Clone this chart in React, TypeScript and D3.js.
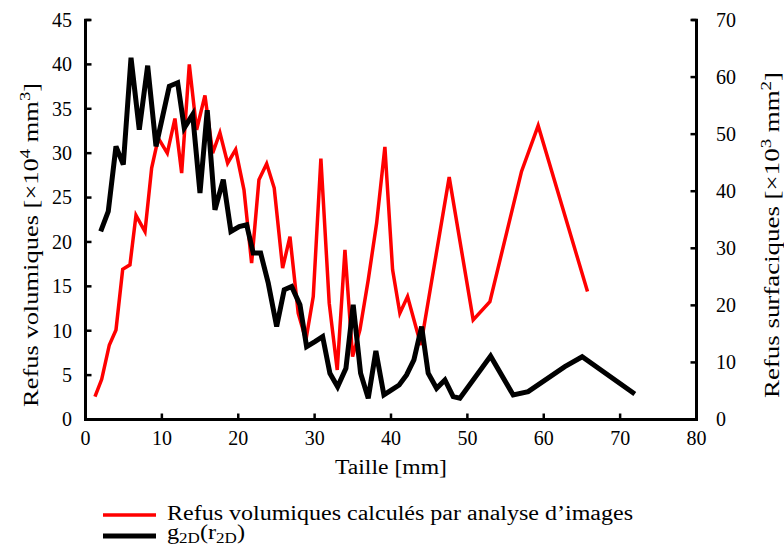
import React from 'react';
import * as d3 from 'd3';

// Taille [mm] and Refus volumiques [x10^4 mm^3] (left axis)
const redX = [1.24, 2.12, 3.12, 3.99, 4.87, 5.82, 6.61, 7.79, 8.66, 9.53, 10.71, 11.71, 12.59, 13.59, 14.55, 15.64, 16.65, 17.6, 18.61, 19.66, 20.75, 21.75, 22.71, 23.72, 24.71, 25.81, 26.77, 27.85, 28.86, 29.82, 30.82, 31.91, 32.96, 33.97, 34.97, 35.93, 37.02, 38.12, 39.2, 40.21, 41.16, 42.17, 43.91, 47.62, 50.76, 52.95, 57.09, 59.27, 65.73];
const redY = [2.57, 4.53, 8.4, 10.09, 16.93, 17.42, 23.0, 21.17, 28.32, 31.7, 30.01, 33.9, 27.76, 40.0, 32.64, 36.5, 30.01, 32.3, 28.88, 30.4, 25.87, 17.61, 27.0, 28.8, 26.07, 17.05, 20.6, 11.97, 8.96, 13.84, 29.4, 13.1, 5.58, 19.1, 7.08, 10.09, 15.73, 22.12, 30.7, 16.85, 11.97, 13.84, 8.4, 27.3, 11.22, 13.28, 27.94, 33.1, 14.41];

// g2D(r2D), Refus surfaciques [x10^3 mm^2] (right axis)
const blackX = [1.99, 2.98, 3.99, 4.95, 5.96, 7.04, 8.14, 9.23, 10.1, 10.97, 12.07, 12.93, 14.03, 14.99, 15.94, 16.95, 18.04, 19.04, 20.13, 21.1, 21.96, 22.93, 23.93, 25.03, 26.02, 26.99, 28.08, 28.95, 30.04, 31.05, 32.0, 33.01, 34.1, 35.05, 36.02, 37.02, 38.02, 39.07, 40.08, 41.07, 42.04, 43.0, 44.01, 44.87, 45.97, 47.06, 48.14, 49.02, 53.04, 56.0, 57.96, 62.76, 65.03, 71.92];
const blackY = [32.95, 36.46, 47.86, 44.65, 63.4, 50.79, 62.0, 47.86, 53.12, 58.39, 59.0, 51.09, 53.42, 39.68, 54.2, 36.75, 42.02, 32.95, 33.82, 34.12, 29.16, 29.16, 23.89, 16.28, 22.72, 23.3, 20.09, 12.77, 13.65, 14.53, 8.1, 5.75, 8.98, 20.1, 8.1, 3.72, 12.0, 4.3, 5.18, 6.05, 7.81, 10.44, 16.3, 8.1, 5.47, 6.93, 4.0, 3.72, 11.1, 4.3, 4.88, 9.26, 11.0, 4.47];

const xTicks = [0, 10, 20, 30, 40, 50, 60, 70, 80];
const leftTicks = [0, 5, 10, 15, 20, 25, 30, 35, 40, 45];
const rightTicks = [0, 10, 20, 30, 40, 50, 60, 70];

const FONT = '"Liberation Serif", "Times New Roman", serif';
const FS = 20;
const SUP = 14;

export default function App() {
  const x = d3.scaleLinear().domain([0, 80]).range([85.5, 696.5]);
  const yL = d3.scaleLinear().domain([0, 45]).range([419.5, 20]);
  const yR = d3.scaleLinear().domain([0, 70]).range([419.5, 20]);

  const redLine = d3.line<number>().x((_, i) => x(redX[i])).y((d) => yL(d))(redY) || '';
  const blackLine = d3.line<number>().x((_, i) => x(blackX[i])).y((d) => yR(d))(blackY) || '';

  const [x0, x1] = x.range();
  const [yb, yt] = yL.range();
  const tickLen = 6;
  const txt = { fontFamily: FONT };

  return (
    <svg width={784} height={549} style={{ position: 'absolute', left: 0, top: 0, background: '#fff', fontFamily: FONT }}>
      <rect width={784} height={549} fill="#fff" />
      {/* data lines */}
      <path d={redLine} fill="none" stroke="#ff0000" strokeWidth={3.5} strokeLinejoin="miter" />
      <path d={blackLine} fill="none" stroke="#000" strokeWidth={5} strokeLinejoin="miter" />

      {/* axes frame (left, bottom, right) */}
      <path d={`M${x0},${yt}V${yb}H${x1}V${yt}`} fill="none" stroke="#000" strokeWidth={3} strokeLinejoin="miter" />
      <line x1={x0 - 1.5} x2={x0 + 5} y1={yt} y2={yt} stroke="#000" strokeWidth={2.5} />
      <line x1={x1 + 1.5} x2={x1 - 5} y1={yt} y2={yt} stroke="#000" strokeWidth={2.5} />

      {/* x ticks */}
      {xTicks.map((t) => (
        <g key={'x' + t}>
          <line x1={x(t)} x2={x(t)} y1={yb} y2={yb - tickLen} stroke="#000" strokeWidth={2.5} />
          <text x={x(t)} y={yb + 25} textAnchor="middle" fontSize={FS} fill="#000" style={txt}>{t}</text>
        </g>
      ))}
      {/* left ticks */}
      {leftTicks.map((t) => (
        <g key={'l' + t}>
          <line x1={x0} x2={x0 + tickLen} y1={yL(t)} y2={yL(t)} stroke="#000" strokeWidth={2.5} />
          <text x={72} y={yL(t)} dy="0.34em" textAnchor="end" fontSize={FS} fill="#000" style={txt}>{t}</text>
        </g>
      ))}
      {/* right ticks */}
      {rightTicks.map((t) => (
        <g key={'r' + t}>
          <line x1={x1} x2={x1 - tickLen} y1={yR(t)} y2={yR(t)} stroke="#000" strokeWidth={2.5} />
          <text x={716} y={yR(t)} dy="0.34em" textAnchor="start" fontSize={FS} fill="#000" style={txt}>{t}</text>
        </g>
      ))}

      {/* axis titles */}
      <text x={(x0 + x1) / 2} y={474} textAnchor="middle" fontSize={FS} fill="#000" style={txt}
        textLength={112} lengthAdjust="spacingAndGlyphs">Taille [mm]</text>
      <text transform="translate(38,245) rotate(-90)" textAnchor="middle" fontSize={FS} fill="#000" style={txt}
        textLength={324} lengthAdjust="spacingAndGlyphs">
        Refus volumiques [×10<tspan dy="-8" fontSize={SUP}>4</tspan><tspan dy="8"> mm</tspan><tspan dy="-8" fontSize={SUP}>3</tspan><tspan dy="8">]</tspan>
      </text>
      <text transform="translate(779,235) rotate(-90)" textAnchor="middle" fontSize={FS} fill="#000" style={txt}
        textLength={326} lengthAdjust="spacingAndGlyphs">
        Refus surfaciques [×10<tspan dy="-8" fontSize={SUP}>3</tspan><tspan dy="8"> mm</tspan><tspan dy="-8" fontSize={SUP}>2</tspan><tspan dy="8">]</tspan>
      </text>

      {/* legend */}
      <line x1={103} x2={156} y1={515} y2={515} stroke="#ff0000" strokeWidth={3.5} />
      <text x={167} y={520} fontSize={FS} fill="#000" style={txt}
        textLength={466} lengthAdjust="spacingAndGlyphs">Refus volumiques calculés par analyse d’images</text>
      <line x1={103} x2={156} y1={536} y2={536} stroke="#000" strokeWidth={5} />
      <text x={167} y={539} fontSize={FS} fill="#000" style={txt}
        textLength={78} lengthAdjust="spacingAndGlyphs">
        g<tspan dy="4" fontSize={SUP}>2D</tspan><tspan dy="-4">(r</tspan><tspan dy="4" fontSize={SUP}>2D</tspan><tspan dy="-4">)</tspan>
      </text>
    </svg>
  );
}
